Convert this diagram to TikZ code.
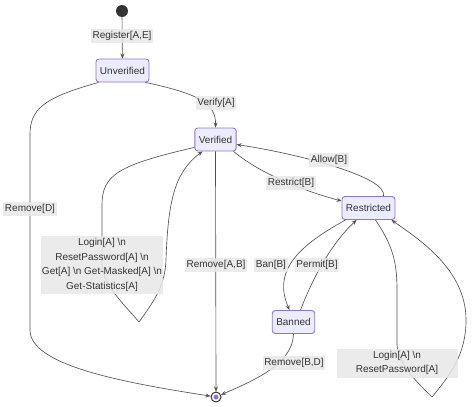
\documentclass[tikz,border=0pt]{standalone}
\usepackage{fontspec}
\setmainfont{Liberation Sans}
\usetikzlibrary{calc,arrows.meta}
\definecolor{boxfill}{HTML}{ECECFF}
\definecolor{boxdraw}{HTML}{9370DB}
\definecolor{edgecol}{HTML}{333333}
\definecolor{lblfill}{HTML}{E8E8E8}
\tikzset{
  statebox/.style={draw=boxdraw, fill=boxfill, line width=0.9pt, rounded corners=3pt, text=edgecol,
    minimum height=23pt, inner xsep=4pt, inner ysep=2pt, font=\fontsize{10}{12}\selectfont},
  edge/.style={draw=edgecol!85, line width=0.65pt, -{Stealth[length=5pt,width=4pt]}},
  lbl/.style={fill=lblfill, fill opacity=0.85, text opacity=1, text=edgecol, inner xsep=1.5pt, inner ysep=2pt,
    font=\fontsize{10}{12}\selectfont},
  biglbl/.style={lbl, align=center, inner sep=0pt, font=\fontsize{10}{14.5}\selectfont}
}
\begin{document}
\begin{tikzpicture}[x=1pt,y=-1pt]
\useasboundingbox (0,0) rectangle (474,407);
% states
\node[circle, fill=edgecol, minimum size=12pt, inner sep=0pt] (start) at (122,11) {};
\node[statebox] (unv) at (122.5,70.5) {Unverified};
\node[statebox] (ver) at (215.5,139.5) {Verified};
\node[statebox] (res) at (368.5,208) {Restricted};
\node[statebox] (ban) at (293.5,322) {Banned};
\node[circle, draw=edgecol, line width=1pt, fill=white, minimum size=10pt, inner sep=0pt] (endst) at (216,397) {};
\node[circle, fill=boxdraw, minimum size=5pt, inner sep=0pt] (endin) at (216,397) {};
% edges
\draw[edge] (start) -- (unv);
\draw[edge] ($(unv.south east)+(-4,0)$) .. controls (200,94) and (216,104) .. (ver.north);
\draw[edge] ($(unv.south west)+(3,0)$) .. controls (42,98) and (30,110) .. (30,135) -- (30,330)
   .. controls (30,365) and (120,382) .. (endst);
\draw[edge] ($(ver.south west)+(0,-4)$) .. controls (118,165) and (102,175) .. (102,205) -- (102,262)
   .. controls (102,285) and (125,305) .. (139,322)
   .. controls (155,300) and (165,285) .. (166,260)
   .. controls (168,200) and (175,172) .. ($(ver.south west)+(8,0)$);
\draw[edge] (ver.south) -- (endst.north);
\draw[edge] ($(ver.south east)+(-3,0)$) .. controls (258,172) and (300,190) .. ($(res.west)+(0,-7)$);
\draw[edge] ($(res.north)+(15,0)$) .. controls (388,178) and (305,155) .. ($(ver.east)+(0,5)$);
\draw[edge] ($(res.south west)+(4,0)$) .. controls (300,245) and (272,270) .. ($(ban.north)+(-4,0)$);
\draw[edge] ($(ban.north)+(7,0)$) .. controls (312,280) and (330,245) .. ($(res.south west)+(15,0)$);
\draw[edge] (ban.south) .. controls (293,365) and (250,382) .. (endst);
\draw[edge] ($(res.south)+(7,0)$) .. controls (392,245) and (397,260) .. (397,290) -- (397,345)
   .. controls (398,365) and (420,385) .. (432,397)
   .. controls (450,375) and (466,355) .. (466,320)
   .. controls (466,270) and (420,240) .. ($(res.south east)+(-4,0)$);
% labels
\node[lbl] (l1) at (122,36) {Register[A,E]};
\node[lbl] (l2) at (216,103) {Verify[A]};
\node[lbl] (l3) at (30,209) {Remove[D]};
\node[lbl] (l4) at (216,265) {Remove[A,B]};
\node[lbl] (l5) at (291,183) {Restrict[B]};
\node[lbl] (l6) at (329,160) {Allow[B]};
\node[lbl] (l7) at (271,265) {Ban[B]};
\node[lbl] (l8) at (317,265) {Permit[B]};
\node[lbl] (l9) at (294,363) {Remove[B,D]};
\node[biglbl, minimum width=122pt, minimum height=58pt] (l10) at (102,265)
  {Login[A] \textbackslash n\\ ResetPassword[A] \textbackslash n\\ Get[A] \textbackslash n Get-Masked[A] \textbackslash n\\ Get-Statistics[A]};
\node[biglbl, minimum width=121pt, minimum height=29pt] (l11) at (397,363)
  {Login[A] \textbackslash n\\ ResetPassword[A]};
\end{tikzpicture}
\end{document}
